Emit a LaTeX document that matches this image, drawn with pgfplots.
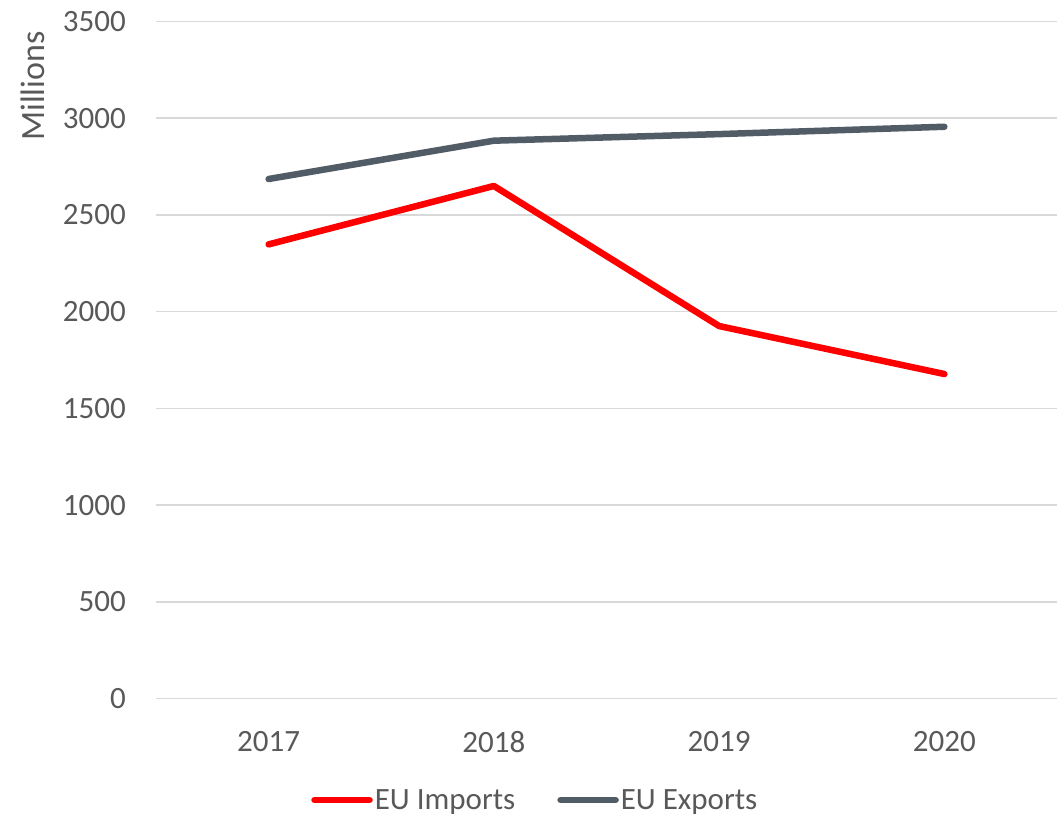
\documentclass[border=0pt]{standalone}
\usepackage{pgfplots}
\pgfplotsset{compat=1.18}
\usepackage{fontspec}
\setmainfont{Carlito}
\definecolor{txt}{HTML}{595959}
\definecolor{grid}{HTML}{D9D9D9}
\definecolor{expc}{HTML}{515C67}
\definecolor{impc}{HTML}{FF0000}
\begin{document}
\begin{tikzpicture}
\useasboundingbox (0,0) rectangle (1061pt,817pt);
\begin{axis}[
  at={(156pt,118.3pt)}, anchor=south west,
  scale only axis, width=901pt, height=677.2pt,
  xmin=-0.5, xmax=3.5, ymin=0, ymax=3500,
  xtick={0,1,2,3}, xticklabels={2017,2018,2019,2020},
  ytick={0,500,...,3500},
  ymajorgrids, grid style={draw=grid, line width=1.5pt},
  axis line style={draw=none},
  major tick length=0pt,
  /pgf/number format/assume math mode=true,
  /pgf/number format/set thousands separator={},
  tick label style={font=\fontsize{31}{37}\selectfont, text=txt},
  xticklabel style={inner sep=0pt, anchor=north, yshift=-32pt},
  yticklabel style={inner sep=0pt, anchor=east, xshift=-30pt},
  legend columns=2,
  legend style={at={(0.421,-0.1496)}, anchor=center, draw=none, fill=none,
    font=\fontsize{31}{37}\selectfont, text=txt,
    /tikz/every even column/.append style={column sep=40pt}},
  legend image code/.code={\draw[#1, line cap=round] (0pt,0pt) -- (55pt,0pt);},
  legend cell align=left,
  clip=false,
]
\addplot[impc, line width=6.5pt, line cap=round, line join=round] coordinates {(0,2348) (1,2650) (2,1926) (3,1678)};
\addlegendentry{EU Imports}
\addplot[expc, line width=6.5pt, line cap=round, line join=round] coordinates {(0,2686) (1,2884) (2,2918) (3,2956)};
\addlegendentry{EU Exports}
\node[rotate=90, anchor=center, text=txt, font=\fontsize{34}{40}\selectfont, inner sep=0pt] at (axis description cs:-0.1365,0.9048) {Millions};
\end{axis}
\end{tikzpicture}
\end{document}
